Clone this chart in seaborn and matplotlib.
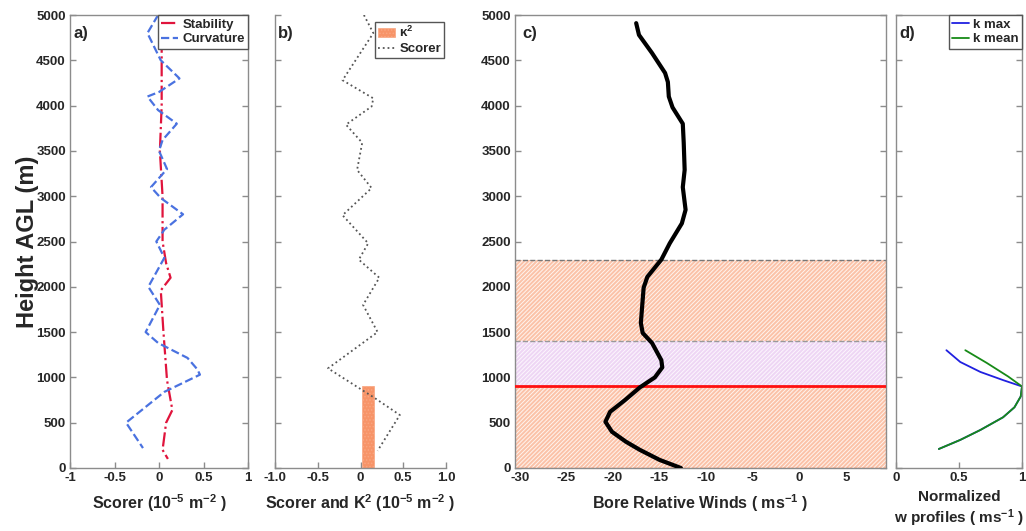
import numpy as np
import pandas as pd
import matplotlib
matplotlib.use("Agg")
import matplotlib.pyplot as plt
import seaborn as sns

# ---------------- data ----------------
# Panel a: Scorer components
curv_h = [5000, 4800, 4500, 4300, 4150, 4100, 3950, 3800, 3620, 3500, 3300, 3100, 2980,
          2800, 2630, 2500, 2320, 2000, 1800, 1500, 1380, 1215, 1090, 1030, 840, 500, 220]
curv_v = [-0.01, -0.13, 0.02, 0.23, 0.0, -0.13, -0.01, 0.20, 0.04, 0.0, 0.09, -0.09, 0.02,
          0.27, 0.06, -0.03, 0.06, -0.12, 0.01, -0.15, -0.01, 0.32, 0.43, 0.46, 0.06, -0.37, -0.18]
stab_h = [5000, 4500, 4000, 3500, 3000, 2500, 2260, 2100, 1960, 1500, 970, 750, 640, 500, 200, 100]
stab_v = [0.03, 0.03, 0.03, 0.01, 0.04, 0.04, 0.08, 0.13, 0.02, 0.05, 0.09, 0.13, 0.15, 0.08, 0.04, 0.10]

# Panel b: total Scorer parameter and kappa^2
scor_h = [5000, 4800, 4280, 4080, 3990, 3790, 3590, 3290, 3090, 2790, 2480, 2300, 2100,
          1800, 1500, 1100, 770, 585, 190]
scor_v = [0.04, 0.15, -0.21, 0.15, 0.13, -0.17, 0.02, -0.04, 0.13, -0.21, 0.09, -0.02, 0.22,
          0.03, 0.20, -0.38, 0.17, 0.46, 0.20]
k2_left, k2_right, k2_top = 0.02, 0.16, 900

# Panel c: bore relative winds
wind_h = [4910, 4780, 4580, 4360, 4260, 4100, 3980, 3800, 3590, 3290, 3100, 2850, 2700, 2480,
          2300, 2110, 1990, 1600, 1490, 1380, 1190, 1110, 1000, 890, 750, 620, 510, 400, 290,
          200, 90, 0]
wind_v = [-17.5, -17.2, -15.8, -14.4, -14.1, -14.0, -13.6, -12.5, -12.4, -12.3, -12.5, -12.2,
          -12.6, -13.9, -14.8, -16.3, -16.7, -17.0, -16.8, -15.8, -14.8, -14.7, -15.5, -17.1,
          -18.7, -20.3, -20.8, -20.1, -18.6, -17.1, -15.0, -12.7]
layer_top, duct_top, duct_bottom = 2300, 1400, 900

# Panel d: normalized w profiles
kmax_h = [1300, 1170, 1060, 970, 900, 790, 670, 560, 420, 310, 210]
kmax_v = [0.40, 0.51, 0.67, 0.85, 1.00, 0.99, 0.94, 0.85, 0.67, 0.51, 0.34]
kmean_h = [1300, 1160, 1010, 900, 790, 670, 560, 420, 310, 210]
kmean_v = [0.55, 0.72, 0.89, 1.00, 0.99, 0.94, 0.85, 0.67, 0.51, 0.34]

# ---------------- style ----------------
sns.set_style("white")
plt.rcParams['font.family'] = ['Liberation Sans', 'DejaVu Sans']
plt.rcParams['font.weight'] = 'bold'
plt.rcParams['mathtext.fontset'] = 'custom'
plt.rcParams['mathtext.rm'] = 'Liberation Sans:bold'
plt.rcParams['mathtext.bf'] = 'Liberation Sans:bold'
plt.rcParams['mathtext.it'] = 'Liberation Sans:bold'
plt.rcParams['mathtext.default'] = 'bf'
plt.rcParams['hatch.linewidth'] = 0.7

W, H = 1026, 531
fig = plt.figure(figsize=(W / 100, H / 100), dpi=100)

def add_ax(left, right, top=15, bottom=468):
    return fig.add_axes([left / W, (H - bottom) / H, (right - left) / W, (bottom - top) / H])

ax_a = add_ax(70, 248)
ax_b = add_ax(275, 446)
ax_c = add_ax(515, 886)
ax_d = add_ax(896, 1022)

spine_col = '#8c8c8c'
yticks = np.arange(0, 5001, 500)

def style(ax, labels_y=True, box=True):
    ax.set_ylim(0, 5000)
    ax.set_yticks(yticks)
    if labels_y:
        ax.set_yticklabels([str(t) for t in yticks])
    else:
        ax.set_yticklabels([])
    for s in ax.spines.values():
        s.set_color(spine_col)
        s.set_linewidth(1.0)
    if not box:
        ax.spines['top'].set_visible(False)
        ax.spines['right'].set_visible(False)
    ax.tick_params(direction='in', length=4, width=1, color=spine_col,
                   labelsize=9.5, pad=3, right=box, top=False, left=True, bottom=True)
    for lab in ax.get_xticklabels() + ax.get_yticklabels():
        lab.set_fontweight('bold')
    ax.set_ylabel('')

leg_kw = dict(loc='upper right', borderaxespad=0.0, fancybox=False, framealpha=1,
              edgecolor='#555555', handlelength=1.3, handletextpad=0.3,
              borderpad=0.25, labelspacing=0.2, prop={'size': 9.5, 'weight': 'bold'})

# ---- Panel a ----
dfa1 = pd.DataFrame({'h': stab_h, 'v': stab_v})
dfa2 = pd.DataFrame({'h': curv_h, 'v': curv_v})
sns.lineplot(data=dfa1, x='v', y='h', orient='y', sort=False, estimator=None, ax=ax_a,
             color='#e0143c', lw=1.6, linestyle='-.', label='Stability')
sns.lineplot(data=dfa2, x='v', y='h', orient='y', sort=False, estimator=None, ax=ax_a,
             color='#4a72e0', lw=1.6, linestyle='--', label='Curvature')
ax_a.set_xlim(-1, 1)
ax_a.set_xticks([-1, -0.5, 0, 0.5, 1])
ax_a.set_xticklabels(['-1', '-0.5', '0', '0.5', '1'])
style(ax_a)
ax_a.set_ylabel('Height AGL (m)', fontsize=17, fontweight='bold', labelpad=-2)
ax_a.set_xlabel('Scorer (10$^{-5}$ m$^{-2}$ )', fontsize=11.5, fontweight='bold', labelpad=6)
ax_a.legend(**leg_kw)
ax_a.text(0.02, 0.975, 'a)', transform=ax_a.transAxes, fontsize=12, fontweight='bold',
          va='top', ha='left')

# ---- Panel b ----
bar = ax_b.bar([(k2_left + k2_right) / 2], [k2_top], width=k2_right - k2_left, bottom=0,
               color='#f79468', edgecolor='#f9a682', hatch='.....', lw=0.5, label='κ$^2$', zorder=2)
dfb = pd.DataFrame({'h': scor_h, 'v': scor_v})
sns.lineplot(data=dfb, x='v', y='h', orient='y', sort=False, estimator=None, ax=ax_b,
             color='#555555', lw=1.3, linestyle=':', label='Scorer', zorder=3)
ax_b.set_xlim(-1, 1)
ax_b.set_xticks([-1, -0.5, 0, 0.5, 1])
ax_b.set_xticklabels(['-1.0', '-0.5', '0', '0.5', '1.0'])
style(ax_b, labels_y=False, box=False)
ax_b.set_xlabel('Scorer and K$^2$ (10$^{-5}$ m$^{-2}$ )', fontsize=11.5, fontweight='bold', labelpad=6)
hb, lb = ax_b.get_legend_handles_labels()
order = [lb.index('κ$^2$'), lb.index('Scorer')]
ax_b.legend([hb[i] for i in order], [lb[i] for i in order], bbox_to_anchor=(0.99, 0.985), **leg_kw)
ax_b.text(0.02, 0.975, 'b)', transform=ax_b.transAxes, fontsize=12, fontweight='bold',
          va='top', ha='left')

# ---- Panel c ----
xl = (-30.5, 9.3)
ax_c.axhspan(0, layer_top, facecolor='#fbc2a8', edgecolor='#fff4ee', hatch='////////', lw=0, zorder=1)
ax_c.axhspan(duct_bottom, duct_top, facecolor='#eed6f4', edgecolor='#fcf6fd', hatch='////////', lw=0, zorder=1.5)
ax_c.axhline(layer_top, color='#777777', lw=1, ls='--', zorder=2)
ax_c.axhline(duct_top, color='#999999', lw=1, ls='--', zorder=2)
ax_c.axhline(0, color='#f08060', lw=1, ls='--', zorder=2)
ax_c.axhline(duct_bottom, color='#ff1010', lw=2, zorder=3)
dfc = pd.DataFrame({'h': wind_h, 'v': wind_v})
sns.lineplot(data=dfc, x='v', y='h', orient='y', sort=False, estimator=None, ax=ax_c,
             color='black', lw=3, zorder=4)
ax_c.set_xlim(*xl)
ax_c.set_xticks(np.arange(-30, 6, 5))
ax_c.set_xticklabels([str(t) for t in np.arange(-30, 6, 5)])
style(ax_c)
ax_c.set_xlabel('Bore Relative Winds ( ms$^{-1}$ )', fontsize=11.5, fontweight='bold', labelpad=6)
ax_c.text(0.02, 0.975, 'c)', transform=ax_c.transAxes, fontsize=12, fontweight='bold',
          va='top', ha='left', zorder=5)

# ---- Panel d ----
dfd1 = pd.DataFrame({'h': kmax_h, 'v': kmax_v})
dfd2 = pd.DataFrame({'h': kmean_h, 'v': kmean_v})
sns.lineplot(data=dfd1, x='v', y='h', orient='y', sort=False, estimator=None, ax=ax_d,
             color='#2020e0', lw=1.3, label='k max')
sns.lineplot(data=dfd2, x='v', y='h', orient='y', sort=False, estimator=None, ax=ax_d,
             color='#178a17', lw=1.3, label='k mean')
ax_d.set_xlim(0, 1)
ax_d.set_xticks([0, 0.5, 1])
ax_d.set_xticklabels(['0', '0.5', '1'])
style(ax_d, labels_y=False)
ax_d.set_xlabel('Normalized\nw profiles ( ms$^{-1}$ )', fontsize=11, fontweight='bold',
                labelpad=4, linespacing=1.25)
ax_d.legend(**leg_kw)
ax_d.text(0.03, 0.975, 'd)', transform=ax_d.transAxes, fontsize=12, fontweight='bold',
          va='top', ha='left')

fig.savefig('out.png', dpi=100)
